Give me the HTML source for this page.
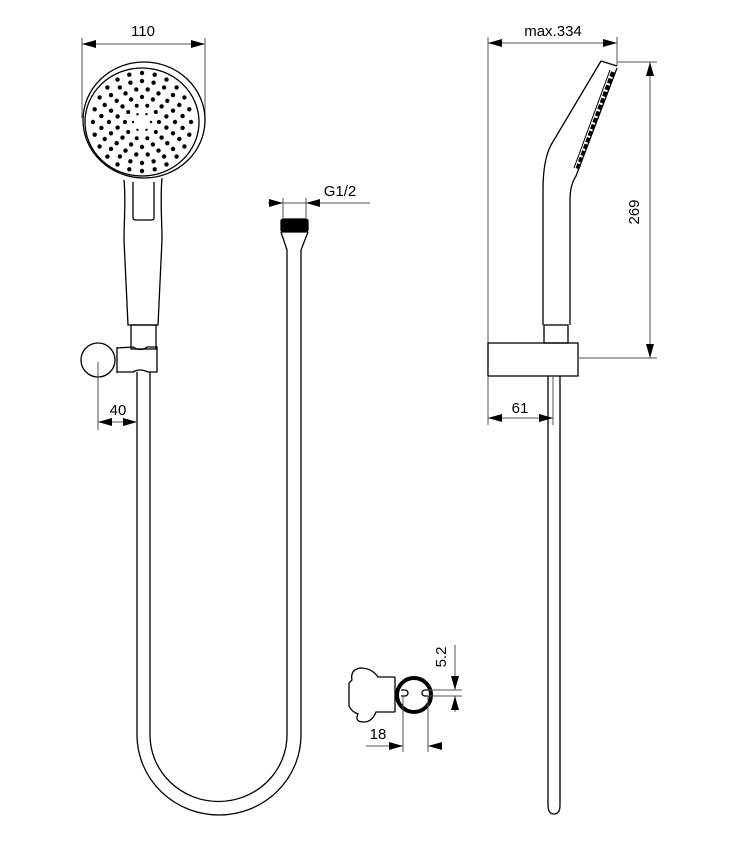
<!DOCTYPE html>
<html><head><meta charset="utf-8"><style>
body{margin:0;background:#fff}
svg{display:block}
text{font-family:"Liberation Sans",sans-serif;font-size:15px;fill:#000}
</style></head><body>
<svg width="737" height="860" viewBox="0 0 737 860" xmlns="http://www.w3.org/2000/svg">
<defs>
<marker id="a" markerWidth="14" markerHeight="8" refX="14" refY="4" orient="auto" markerUnits="userSpaceOnUse"><path d="M0,0 L14,4 L0,8 Z" fill="#000"/></marker>
<marker id="b" markerWidth="14" markerHeight="8" refX="0" refY="4" orient="auto" markerUnits="userSpaceOnUse"><path d="M14,0 L0,4 L14,8 Z" fill="#000"/></marker>
</defs>
<g fill="none" stroke="#000" stroke-width="1.3">
<line x1="82" y1="38" x2="82" y2="118" stroke="#555" stroke-width="1"/>
<line x1="205" y1="38" x2="205" y2="118" stroke="#555" stroke-width="1"/>
<line x1="82" y1="44" x2="205" y2="44" stroke="#555" stroke-width="1" marker-start="url(#b)" marker-end="url(#a)"/>
<ellipse cx="144" cy="120" rx="61" ry="58"/>
<ellipse cx="142" cy="122" rx="57" ry="54"/>
<path d="M124,180 C126,200 124,220 124,240 L128,325 L158,325 L162,240 C162,220 160,200 162,178"/>
<path d="M133,182 L133,218 Q133,220 136,220 L151,220 Q154,220 154,218 L154,182"/>
<rect x="131" y="325" width="25" height="24"/>
<circle cx="98" cy="360" r="17"/>
<path d="M117,348 L133,347 Q141,352 147,347 L157,347 L157,372 L148,372 Q140,368 133,372 L117,372"/>
<line x1="117" y1="347" x2="117" y2="373"/>
<path d="M137,372 L137,735 A82,80 0 0 0 301,735 L301,250 L308,232"/>
<path d="M150,372 L150,735 A68,66 0 0 0 287,735 L287,250 L281,232"/>
<rect x="281" y="219" width="27" height="13" rx="2" fill="#000"/>
<line x1="98" y1="362" x2="98" y2="430" stroke="#555" stroke-width="1"/>
<line x1="98" y1="422" x2="137" y2="422" stroke="#555" stroke-width="1" marker-start="url(#b)" marker-end="url(#a)"/>
<line x1="283" y1="198" x2="283" y2="218" stroke="#555" stroke-width="1"/>
<line x1="306" y1="198" x2="306" y2="218" stroke="#555" stroke-width="1"/>
<line x1="268" y1="203" x2="283" y2="203" stroke="#555" stroke-width="1" marker-end="url(#a)"/>
<line x1="370" y1="203" x2="306" y2="203" stroke="#555" stroke-width="1" marker-end="url(#a)"/>
<line x1="283" y1="203" x2="306" y2="203" stroke="#555" stroke-width="1"/>
<line x1="488" y1="37" x2="488" y2="345" stroke="#555" stroke-width="1"/>
<line x1="617" y1="37" x2="617" y2="66" stroke="#555" stroke-width="1"/>
<line x1="488" y1="43" x2="617" y2="43" stroke="#555" stroke-width="1" marker-start="url(#b)" marker-end="url(#a)"/>
<path d="M601,61 L551,145 Q543,160 543,190 L543,325"/>
<path d="M617,68 L576,176 Q570,185 570,200 L570,325"/>
<line x1="601" y1="61" x2="617" y2="66"/>
<path d="M613,72 L577,170" stroke-width="4" stroke-dasharray="5,2"/>
<path d="M610,70 L574,168" stroke-width="1"/>
<rect x="544" y="325" width="24" height="18"/>
<rect x="488" y="343" width="90" height="33"/>
<path d="M548,376 L548,805 Q548,814 554,814 Q560,814 560,805 L560,376"/>
<line x1="553" y1="376" x2="553" y2="425" stroke="#555" stroke-width="1"/>
<line x1="488" y1="376" x2="488" y2="425" stroke="#555" stroke-width="1"/>
<line x1="488" y1="418" x2="553" y2="418" stroke="#555" stroke-width="1" marker-start="url(#b)" marker-end="url(#a)"/>
<line x1="617" y1="62" x2="657" y2="62" stroke="#555" stroke-width="1"/>
<line x1="578" y1="358" x2="657" y2="358" stroke="#555" stroke-width="1"/>
<line x1="650" y1="62" x2="650" y2="358" stroke="#555" stroke-width="1" marker-start="url(#b)" marker-end="url(#a)"/>
<path d="M395,677 L395,712 M395,677 L378,677 Q372,668 360,668 Q350,670 352,680 L349,683 L349,706 Q352,712 358,714 Q354,722 364,722 Q372,722 376,712 L395,712"/>
<circle cx="414" cy="695" r="17" stroke-width="4"/>
<path d="M401,690 L405,690 A3,3 0 0 1 405,696 L401,696"/>
<path d="M429,690 L425,690 A3,3 0 0 0 425,696 L429,696"/>
<line x1="403" y1="696" x2="403" y2="752" stroke="#555" stroke-width="1"/>
<line x1="428" y1="696" x2="428" y2="752" stroke="#555" stroke-width="1"/>
<line x1="366" y1="746" x2="403" y2="746" stroke="#555" stroke-width="1" marker-end="url(#a)"/>
<line x1="440" y1="746" x2="428" y2="746" stroke="#555" stroke-width="1" marker-end="url(#a)"/>
<line x1="428" y1="690" x2="462" y2="690" stroke="#555" stroke-width="1"/>
<line x1="428" y1="696" x2="462" y2="696" stroke="#555" stroke-width="1"/>
<line x1="455" y1="645" x2="455" y2="690" stroke="#555" stroke-width="1" marker-end="url(#a)"/>
<line x1="455" y1="712" x2="455" y2="696" stroke="#555" stroke-width="1" marker-end="url(#a)"/>
</g>
<g fill="#000">
<g>
<circle cx="151" cy="122" r="1.2"/><circle cx="146.5" cy="129.8" r="1.2"/><circle cx="137.5" cy="129.8" r="1.2"/><circle cx="133" cy="122" r="1.2"/><circle cx="137.5" cy="114.2" r="1.2"/><circle cx="146.5" cy="114.2" r="1.2"/>
</g>
<g>
<circle cx="159" cy="122" r="2"/><circle cx="155.8" cy="132" r="2"/><circle cx="147.3" cy="138.2" r="2"/><circle cx="136.7" cy="138.2" r="2"/><circle cx="128.2" cy="132" r="2"/><circle cx="125" cy="122" r="2"/><circle cx="128.2" cy="112" r="2"/><circle cx="136.7" cy="105.8" r="2"/><circle cx="147.3" cy="105.8" r="2"/><circle cx="155.8" cy="112" r="2"/>
</g>
<g>
<circle cx="166.4" cy="127.6" r="2.2"/><circle cx="161.6" cy="137.6" r="2.2"/><circle cx="152.9" cy="144.5" r="2.2"/><circle cx="142" cy="147" r="2.2"/><circle cx="131.1" cy="144.5" r="2.2"/><circle cx="122.5" cy="137.6" r="2.2"/><circle cx="117.6" cy="127.6" r="2.2"/>
<circle cx="166.4" cy="116.4" r="2.2"/><circle cx="161.6" cy="106.4" r="2.2"/><circle cx="152.9" cy="99.5" r="2.2"/><circle cx="142" cy="97" r="2.2"/><circle cx="131.1" cy="99.5" r="2.2"/><circle cx="122.5" cy="106.4" r="2.2"/><circle cx="117.6" cy="116.4" r="2.2"/>
</g>
<g>
<circle cx="175" cy="122" r="2.2"/><circle cx="173" cy="133.3" r="2.2"/><circle cx="167.3" cy="143.2" r="2.2"/><circle cx="158.5" cy="150.6" r="2.2"/><circle cx="147.7" cy="154.5" r="2.2"/><circle cx="136.3" cy="154.5" r="2.2"/><circle cx="125.5" cy="150.6" r="2.2"/><circle cx="116.7" cy="143.2" r="2.2"/><circle cx="111" cy="133.3" r="2.2"/><circle cx="109" cy="122" r="2.2"/>
<circle cx="173" cy="110.7" r="2.2"/><circle cx="167.3" cy="100.8" r="2.2"/><circle cx="158.5" cy="93.4" r="2.2"/><circle cx="147.7" cy="89.5" r="2.2"/><circle cx="136.3" cy="89.5" r="2.2"/><circle cx="125.5" cy="93.4" r="2.2"/><circle cx="116.7" cy="100.8" r="2.2"/><circle cx="111" cy="110.7" r="2.2"/>
</g>
<g>
<circle cx="182.6" cy="127.9" r="2.2"/><circle cx="179.3" cy="139" r="2.2"/><circle cx="173" cy="148.9" r="2.2"/><circle cx="164.1" cy="156.5" r="2.2"/><circle cx="153.6" cy="161.3" r="2.2"/><circle cx="142" cy="163" r="2.2"/><circle cx="130.4" cy="161.3" r="2.2"/><circle cx="119.9" cy="156.5" r="2.2"/><circle cx="111" cy="148.9" r="2.2"/><circle cx="104.7" cy="139" r="2.2"/><circle cx="101.4" cy="127.9" r="2.2"/>
<circle cx="182.6" cy="116.1" r="2.2"/><circle cx="179.3" cy="105" r="2.2"/><circle cx="173" cy="95.1" r="2.2"/><circle cx="164.1" cy="87.5" r="2.2"/><circle cx="153.6" cy="82.7" r="2.2"/><circle cx="142" cy="81" r="2.2"/><circle cx="130.4" cy="82.7" r="2.2"/><circle cx="119.9" cy="87.5" r="2.2"/><circle cx="111" cy="95.1" r="2.2"/><circle cx="104.7" cy="105" r="2.2"/><circle cx="101.4" cy="116.1" r="2.2"/>
</g>
<g>
<circle cx="191" cy="122" r="2.2"/><circle cx="189.3" cy="134.7" r="2.2"/><circle cx="184.4" cy="146.5" r="2.2"/><circle cx="176.6" cy="156.6" r="2.2"/><circle cx="166.5" cy="164.4" r="2.2"/><circle cx="154.7" cy="169.3" r="2.2"/><circle cx="142" cy="171" r="2.2"/><circle cx="129.3" cy="169.3" r="2.2"/><circle cx="117.5" cy="164.4" r="2.2"/><circle cx="107.4" cy="156.6" r="2.2"/><circle cx="99.6" cy="146.5" r="2.2"/><circle cx="94.7" cy="134.7" r="2.2"/><circle cx="93" cy="122" r="2.2"/>
<circle cx="189.3" cy="109.3" r="2.2"/><circle cx="184.4" cy="97.5" r="2.2"/><circle cx="176.6" cy="87.4" r="2.2"/><circle cx="166.5" cy="79.6" r="2.2"/><circle cx="154.7" cy="74.7" r="2.2"/><circle cx="142" cy="73" r="2.2"/><circle cx="129.3" cy="74.7" r="2.2"/><circle cx="117.5" cy="79.6" r="2.2"/><circle cx="107.4" cy="87.4" r="2.2"/><circle cx="99.6" cy="97.5" r="2.2"/><circle cx="94.7" cy="109.3" r="2.2"/>
</g>
</g>
<text x="143" y="36" text-anchor="middle">110</text>
<text x="118" y="415" text-anchor="middle">40</text>
<text x="340" y="196" text-anchor="middle">G1/2</text>
<text x="553" y="36" text-anchor="middle">max.334</text>
<text x="520" y="413" text-anchor="middle">61</text>
<text transform="translate(639,212) rotate(-90)" text-anchor="middle">269</text>
<text x="378" y="739" text-anchor="middle">18</text>
<text transform="translate(446,657) rotate(-90)" text-anchor="middle">5.2</text>
</svg>
</body></html>
